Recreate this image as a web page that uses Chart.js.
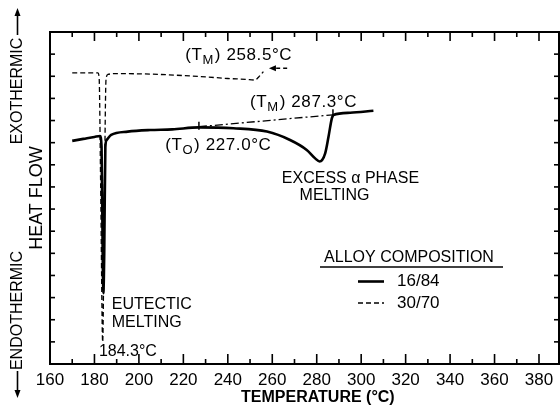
<!DOCTYPE html>
<html>
<head>
<meta charset="utf-8">
<script src="https://cdn.jsdelivr.net/npm/chart.js@4.4.0/dist/chart.umd.min.js"></script>
<style>
html,body{margin:0;padding:0;background:#fff;}
#wrap{width:560px;height:405px;position:relative;}
</style>
</head>
<body>
<div id="wrap"><canvas id="c" width="560" height="405"></canvas></div>
<script>
// ---- data ----
const xTickValues = [160, 180, 200, 220, 240, 260, 280, 300, 320, 340, 360, 380];
const seriesNames = ['16/84', '30/70'];

// Alloy 16/84 (solid)
const temp1684 = [170, 175, 180, 182.5, 183.2, 183.7, 184.0, 184.4, 184.9, 185.5, 187.5, 195, 205, 215, 227, 242.5, 257.6, 268, 275.5, 279.3, 281.3, 283.8, 285.3, 286.8, 287.5, 295, 305.5];
const flow1684 = [10.08, 10.17, 10.26, 10.30, 9.8, 5.0, 3.2, 5.0, 9.8, 10.12, 10.35, 10.5, 10.57, 10.6, 10.69, 10.65, 10.5, 10.12, 9.67, 9.29, 9.15, 9.52, 10.27, 11.1, 11.25, 11.35, 11.44];

// Alloy 30/70 (dashed)
const temp3070 = [170, 176, 181.5, 182.1, 182.8, 183.7, 184.5, 185.2, 186, 190, 200, 210, 220, 230, 240, 248, 252.2, 254, 256];
const flow3070 = [13.15, 13.15, 13.15, 12.95, 8.0, 1.0, 8.0, 12.85, 13.08, 13.12, 13.11, 13.08, 13.03, 12.97, 12.9, 12.86, 12.83, 12.98, 13.21];

// Extrapolated baseline (dash-dot) between onset and melting point
const tangentTemp = [227.0, 287.3];
const tangentFlow = [10.72, 11.26];

// Markers on the 16/84 curve (onset, melting) and the 30/70 melting arrow
const markerTemp = [227.0, 287.3];
const markerFlow = [10.72, 11.28];
const arrowTemp = [266.7, 258.5];
const arrowFlow = [13.36, 13.36];

const toXY = (xs, ys) => xs.map((t, i) => ({x: t, y: ys[i]}));

// ---- annotation texts (position in data units) ----
const notes = [
  {parts: [['(T'], ['M', 1], [') 258.5°C']], t: 220.8, v: 13.96, size: 17},
  {parts: [['(T'], ['M', 1], [') 287.3°C']], t: 250.0, v: 11.81, size: 17},
  {parts: [['(T'], ['O', 1], [') 227.0°C']], t: 211.8, v: 9.87, size: 17},
  {parts: [['EXCESS α PHASE']], t: 264.3, v: 8.36, size: 16},
  {parts: [['MELTING']], t: 272.3, v: 7.59, size: 16},
  {parts: [['EUTECTIC']], t: 187.8, v: 2.67, size: 16},
  {parts: [['MELTING']], t: 187.8, v: 1.85, size: 16},
  {parts: [['184.3°C']], t: 182.0, v: 0.56, size: 16}
];

const FONT = '"Liberation Sans", Arial, sans-serif';

function drawRich(ctx, x, y, parts, size, spacing) {
  let cx = x;
  ctx.letterSpacing = spacing + 'px';
  for (const p of parts) {
    const sub = p[1];
    ctx.font = (sub ? Math.round(size * 0.75) : size) + 'px ' + FONT;
    ctx.fillText(p[0], cx, sub ? y + size * 0.3 : y);
    cx += ctx.measureText(p[0]).width + (sub ? 1 : 0);
  }
  ctx.letterSpacing = '0px';
}

function line(ctx, x1, y1, x2, y2) {
  ctx.beginPath(); ctx.moveTo(x1, y1); ctx.lineTo(x2, y2); ctx.stroke();
}

const decor = {
  id: 'decor',
  afterDraw(chart) {
    const {ctx, chartArea: a, scales: {x, y}} = chart;
    ctx.save();
    ctx.strokeStyle = '#000';
    ctx.fillStyle = '#000';
    ctx.setLineDash([]);
    // frame
    ctx.lineWidth = 2;
    ctx.strokeRect(a.left, a.top, a.right - a.left, a.bottom - a.top);
    // inward ticks on x (top and bottom)
    ctx.lineWidth = 1.6;
    for (let i = 0; i < xTickValues.length; i++) {
      const t = xTickValues[i];
      const px = x.getPixelForValue(t);
      if (i > 0) {
        line(ctx, px, a.bottom, px, a.bottom - 10);
        line(ctx, px, a.top, px, a.top + 9);
      }
      const m = t + (xTickValues[1] - xTickValues[0]) / 2;
      if (m < x.max) {
        const pm = x.getPixelForValue(m);
        line(ctx, pm, a.bottom, pm, a.bottom - 5);
        line(ctx, pm, a.top, pm, a.top + 5);
      }
    }
    // inward ticks on y (left and right)
    for (let v = y.min + 1; v < y.max; v++) {
      const py = y.getPixelForValue(v);
      line(ctx, a.left, py, a.left + 5, py);
      line(ctx, a.right, py, a.right - 5, py);
    }
    // x title
    ctx.font = 'bold 16px ' + FONT;
    ctx.textAlign = 'center';
    ctx.textBaseline = 'middle';
    ctx.fillText('TEMPERATURE (°C)', x.getPixelForValue(280.5), 397.5);

    // y titles (rotated)
    const rot = (txt, cx, cy, size) => {
      ctx.save();
      ctx.translate(cx, cy);
      ctx.rotate(-Math.PI / 2);
      ctx.font = size + 'px ' + FONT;
      ctx.textAlign = 'center';
      ctx.textBaseline = 'middle';
      ctx.fillText(txt, 0, 0);
      ctx.restore();
    };
    rot('EXOTHERMIC', 17.5, 91, 16);
    rot('ENDOTHERMIC', 17.5, 310.5, 16);
    rot('HEAT FLOW', 37.5, 198, 18);
    ctx.lineWidth = 1.6;
    // up arrow
    line(ctx, 17.5, 35, 17.5, 12);
    ctx.beginPath(); ctx.moveTo(17.5, 8); ctx.lineTo(14.5, 16); ctx.lineTo(20.5, 16); ctx.closePath(); ctx.fill();
    // down arrow
    line(ctx, 17.5, 371, 17.5, 393);
    ctx.beginPath(); ctx.moveTo(17.5, 398); ctx.lineTo(14.5, 390); ctx.lineTo(20.5, 390); ctx.closePath(); ctx.fill();

    // annotations
    ctx.textAlign = 'left';
    ctx.textBaseline = 'middle';
    for (const n of notes) {
      drawRich(ctx, x.getPixelForValue(n.t), y.getPixelForValue(n.v), n.parts, n.size, n.size > 16 ? 0.6 : 0);
    }
    // markers on the solid curve
    ctx.lineWidth = 1.5;
    for (let i = 0; i < markerTemp.length; i++) {
      const px = x.getPixelForValue(markerTemp[i]);
      const py = y.getPixelForValue(markerFlow[i]);
      line(ctx, px, py - 5, px, py + 3);
    }
    // arrow to 258.5
    const ax1 = x.getPixelForValue(arrowTemp[0]), ay1 = y.getPixelForValue(arrowFlow[0]);
    const ax2 = x.getPixelForValue(arrowTemp[1]), ay2 = y.getPixelForValue(arrowFlow[1]);
    ctx.setLineDash([4, 3]);
    line(ctx, ax1, ay1, ax2 + 4, ay2);
    ctx.setLineDash([]);
    ctx.beginPath(); ctx.moveTo(ax2, ay2); ctx.lineTo(ax2 + 7, ay2 - 3); ctx.lineTo(ax2 + 7, ay2 + 3); ctx.closePath(); ctx.fill();

    // legend
    ctx.font = '16px ' + FONT;
    ctx.textAlign = 'center';
    ctx.fillText('ALLOY COMPOSITION', 409, 257.5);
    ctx.lineWidth = 1.6;
    line(ctx, 320, 267, 503, 267);
    ctx.textAlign = 'left';
    ctx.font = '17px ' + FONT;
    const rows = [281.5, 303];
    chart.data.datasets.forEach(ds => {
      const k = seriesNames.indexOf(ds.label);
      if (k < 0) return;
      ctx.lineWidth = ds.borderWidth;
      ctx.setLineDash(ds.borderDash || []);
      line(ctx, 358, rows[k], 384, rows[k]);
      ctx.setLineDash([]);
      ctx.fillText(ds.label, 397, rows[k]);
    });
    ctx.restore();
  }
};

new Chart(document.getElementById('c'), {
  type: 'line',
  data: {
    datasets: [
      {label: seriesNames[0], data: toXY(temp1684, flow1684), borderColor: '#000', borderWidth: 2.6,
       pointRadius: 0, fill: false, cubicInterpolationMode: 'monotone'},
      {label: seriesNames[1], data: toXY(temp3070, flow3070), borderColor: '#000', borderWidth: 1.3,
       borderDash: [5, 3], pointRadius: 0, fill: false, cubicInterpolationMode: 'monotone'},
      {label: 'baseline', data: toXY(tangentTemp, tangentFlow), borderColor: '#000', borderWidth: 1.3,
       borderDash: [8, 3, 2, 3], pointRadius: 0, fill: false}
    ]
  },
  options: {
    responsive: false,
    devicePixelRatio: 1,
    animation: false,
    layout: {padding: {left: 50, right: 1, top: 32, bottom: 0}},
    plugins: {legend: {display: false}, tooltip: {enabled: false}},
    scales: {
      x: {
        type: 'linear', min: 160, max: 389,
        grid: {display: false}, border: {display: false},
        afterBuildTicks: s => { s.ticks = xTickValues.map(v => ({value: v})); },
        afterFit: s => { s.height = 41; },
        ticks: {color: '#000', padding: -2, maxRotation: 0, autoSkip: false,
                font: {family: FONT, size: 17}}
      },
      y: {type: 'linear', min: 0, max: 15, display: false}
    }
  },
  plugins: [decor]
});
</script>
</body>
</html>
